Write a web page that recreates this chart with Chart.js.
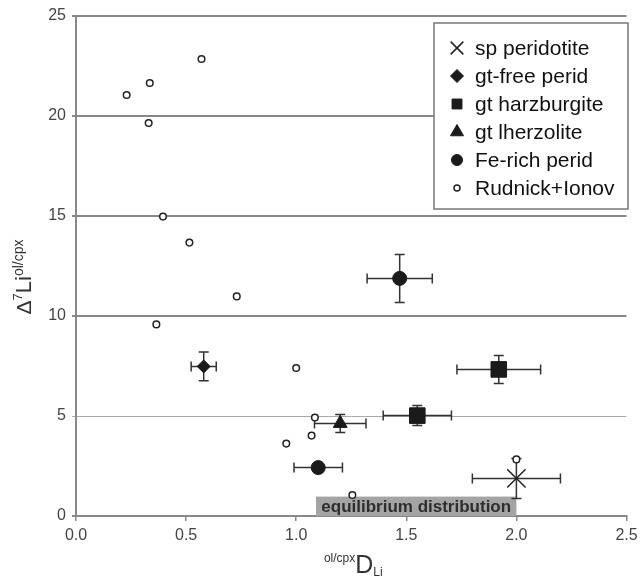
<!DOCTYPE html>
<html>
<head>
<meta charset="utf-8">
<script src="https://cdn.jsdelivr.net/npm/chart.js@4.4.0/dist/chart.umd.min.js"></script>
<style>
    html, body { margin: 0; padding: 0; background: #fff; }
</style>
</head>
<body>
<canvas id="chart" width="641" height="577"></canvas>
<script>
// Values
const seriesNames = ['sp peridotite', 'gt-free perid', 'gt harzburgite', 'gt lherzolite', 'Fe-rich perid', 'Rudnick+Ionov'];

const spX = [2.00];
const spY = [1.88];
const spXErr = [0.20];
const spYErr = [1.00];

const gtFreeX = [0.58];
const gtFreeY = [7.48];
const gtFreeXErr = [0.057];
const gtFreeYErr = [0.72];

const harzX = [1.55, 1.92];
const harzY = [5.02, 7.33];
const harzXErr = [0.155, 0.19];
const harzYErr = [0.50, 0.70];

const lherzX = [1.20];
const lherzY = [4.63];
const lherzXErr = [0.117];
const lherzYErr = [0.45];

const feRichX = [1.47, 1.10];
const feRichY = [11.88, 2.42];
const feRichXErr = [0.148, 0.11];
const feRichYErr = [1.20, 0];

const rudnickX = [0.23, 0.335, 0.57, 0.33, 0.395, 0.515, 0.73, 0.365, 1.00, 1.085, 1.07, 0.955, 1.255, 2.00];
const rudnickY = [21.05, 21.65, 22.85, 19.65, 14.97, 13.67, 10.98, 9.58, 7.40, 4.92, 4.02, 3.62, 1.05, 2.83];

const xTicks = [0, 0.5, 1.0, 1.5, 2.0, 2.5];
const yTicks = [0, 5, 10, 15, 20, 25];

// equilibrium distribution band
const eqRange = [1.09, 2.0];
const eqTop = 0.97;

function points(xs, ys) {
    return xs.map((x, i) => ({ x: x, y: ys[i] }));
}

const ink = '#1a1a1a';
const sans = '"Liberation Sans", Arial, sans-serif';

// Shaded box for the equilibrium distribution
const eqBox = {
    id: 'eqBox',
    beforeDatasetsDraw(chart) {
        const { ctx, scales: { x, y } } = chart;
        const l = x.getPixelForValue(eqRange[0]);
        const r = x.getPixelForValue(eqRange[1]);
        const t = y.getPixelForValue(eqTop);
        const b = y.getPixelForValue(0);
        ctx.save();
        ctx.fillStyle = '#a4a4a4';
        ctx.fillRect(l, t, r - l, b - t);
        ctx.fillStyle = '#2e2e2e';
        ctx.font = 'bold 17px ' + sans;
        ctx.textAlign = 'center';
        ctx.textBaseline = 'middle';
        ctx.fillText('equilibrium distribution', (l + r) / 2, (t + b) / 2 + 1);
        ctx.restore();
    }
};

// Error bars with caps
const errorBars = {
    id: 'errorBars',
    beforeDatasetsDraw(chart) {
        const { ctx, scales: { x, y } } = chart;
        const cap = 5;
        ctx.save();
        ctx.strokeStyle = '#333';
        ctx.lineWidth = 1.5;
        chart.data.datasets.forEach(ds => {
            if (!ds.xErr) return;
            ds.data.forEach((p, i) => {
                const px = x.getPixelForValue(p.x);
                const py = y.getPixelForValue(p.y);
                const ex = ds.xErr[i];
                const ey = ds.yErr[i];
                ctx.beginPath();
                if (ex) {
                    const l = x.getPixelForValue(p.x - ex);
                    const r = x.getPixelForValue(p.x + ex);
                    ctx.moveTo(l, py); ctx.lineTo(r, py);
                    ctx.moveTo(l, py - cap); ctx.lineTo(l, py + cap);
                    ctx.moveTo(r, py - cap); ctx.lineTo(r, py + cap);
                }
                if (ey) {
                    const t = y.getPixelForValue(p.y + ey);
                    const b = y.getPixelForValue(p.y - ey);
                    ctx.moveTo(px, t); ctx.lineTo(px, b);
                    ctx.moveTo(px - cap, t); ctx.lineTo(px + cap, t);
                    ctx.moveTo(px - cap, b); ctx.lineTo(px + cap, b);
                }
                ctx.stroke();
            });
        });
        ctx.restore();
    }
};

// Legend box inside the plot, top right
const boxLegend = {
    id: 'boxLegend',
    afterDraw(chart) {
        const { ctx } = chart;
        const legendSizes = [9, 6.5, 7, 7.5, 5.5, 3];
        ctx.save();
        ctx.fillStyle = '#fff';
        ctx.fillRect(434, 23, 194, 186);
        ctx.strokeStyle = '#777';
        ctx.lineWidth = 1.5;
        ctx.strokeRect(434, 23, 194, 186);
        ctx.font = '21px ' + sans;
        ctx.textBaseline = 'middle';
        ctx.textAlign = 'left';
        chart.data.datasets.forEach((ds, i) => {
            const cy = 48 + i * 28;
            ctx.fillStyle = ds.backgroundColor;
            ctx.strokeStyle = ds.borderColor;
            ctx.lineWidth = ds.borderWidth;
            Chart.helpers.drawPoint(ctx, {
                pointStyle: ds.pointStyle,
                radius: legendSizes[i],
                borderWidth: ds.borderWidth,
                rotation: 0
            }, 457, cy);
            ctx.fillStyle = '#111';
            ctx.fillText(ds.label, 475, cy + 1);
        });
        ctx.restore();
    }
};

// Axis titles with super/subscripts
const axisTitles = {
    id: 'axisTitles',
    afterDraw(chart) {
        const { ctx, chartArea } = chart;
        ctx.save();
        ctx.fillStyle = '#333';
        ctx.textBaseline = 'alphabetic';
        ctx.textAlign = 'left';

        // y title: Δ7Li ol/cpx
        const yParts = [
            { t: '\u0394', f: '21px ' + sans, dy: 0 },
            { t: '7', f: '13px ' + sans, dy: -9 },
            { t: 'Li', f: '22px ' + sans, dy: 0 },
            { t: 'ol/cpx', f: '14px ' + sans, dy: -8 }
        ];
        let w = 0;
        yParts.forEach(p => { ctx.font = p.f; w += ctx.measureText(p.t).width; });
        ctx.translate(31, 277);
        ctx.rotate(-Math.PI / 2);
        let cx = -w / 2;
        yParts.forEach(p => {
            ctx.font = p.f;
            ctx.fillText(p.t, cx, p.dy);
            cx += ctx.measureText(p.t).width;
        });
        ctx.setTransform(1, 0, 0, 1, 0, 0);

        // x title: ol/cpx D Li
        const xParts = [
            { t: 'ol/cpx', f: '12px ' + sans, dy: -11 },
            { t: 'D', f: '25px ' + sans, dy: 0 },
            { t: 'Li', f: '12px ' + sans, dy: 3 }
        ];
        w = 0;
        xParts.forEach(p => { ctx.font = p.f; w += ctx.measureText(p.t).width; });
        cx = (chartArea.left + chartArea.right) / 2 - w / 2 + 2;
        xParts.forEach(p => {
            ctx.font = p.f;
            ctx.fillText(p.t, cx, 573 + p.dy);
            cx += ctx.measureText(p.t).width;
        });
        ctx.restore();
    }
};

const ctx = document.getElementById('chart');

new Chart(ctx, {
    type: 'scatter',
    data: {
        datasets: [
            {
                label: seriesNames[0],
                data: points(spX, spY),
                xErr: spXErr, yErr: spYErr,
                pointStyle: 'crossRot',
                pointRadius: 13,
                borderWidth: 1.5,
                borderColor: '#222',
                backgroundColor: '#222'
            },
            {
                label: seriesNames[1],
                data: points(gtFreeX, gtFreeY),
                xErr: gtFreeXErr, yErr: gtFreeYErr,
                pointStyle: 'rectRot',
                pointRadius: 6.5,
                borderWidth: 1,
                borderColor: ink,
                backgroundColor: ink
            },
            {
                label: seriesNames[2],
                data: points(harzX, harzY),
                xErr: harzXErr, yErr: harzYErr,
                pointStyle: 'rect',
                pointRadius: 11,
                borderWidth: 1,
                borderColor: ink,
                backgroundColor: ink
            },
            {
                label: seriesNames[3],
                data: points(lherzX, lherzY),
                xErr: lherzXErr, yErr: lherzYErr,
                pointStyle: 'triangle',
                pointRadius: 8,
                borderWidth: 1,
                borderColor: ink,
                backgroundColor: ink
            },
            {
                label: seriesNames[4],
                data: points(feRichX, feRichY),
                xErr: feRichXErr, yErr: feRichYErr,
                pointStyle: 'circle',
                pointRadius: 7,
                borderWidth: 1,
                borderColor: ink,
                backgroundColor: ink
            },
            {
                label: seriesNames[5],
                data: points(rudnickX, rudnickY),
                pointStyle: 'circle',
                pointRadius: 3.3,
                borderWidth: 1.5,
                borderColor: '#222',
                backgroundColor: '#fff'
            }
        ]
    },
    options: {
        responsive: false,
        animation: false,
        layout: { padding: { top: 16, right: 13, left: 0, bottom: 0 } },
        scales: {
            x: {
                type: 'linear',
                min: 0,
                max: 2.5,
                afterFit: scale => {
                    scale.height = 61;
                    scale.paddingRight = 0;
                    scale.paddingLeft = 0;
                },
                afterBuildTicks: scale => { scale.ticks = xTicks.map(v => ({ value: v })); },
                ticks: {
                    color: '#444',
                    padding: 5,
                    font: { family: sans, size: 16 },
                    callback: v => v.toFixed(1)
                },
                grid: { drawOnChartArea: false, color: '#888', lineWidth: 1.5, tickLength: 5 },
                border: { color: '#888', width: 2 }
            },
            y: {
                type: 'linear',
                min: 0,
                max: 25,
                afterFit: scale => {
                    scale.width = 76;
                    scale.paddingTop = 0;
                    scale.paddingBottom = 0;
                },
                afterBuildTicks: scale => { scale.ticks = yTicks.map(v => ({ value: v })); },
                ticks: {
                    color: '#444',
                    padding: 6,
                    font: { family: sans, size: 16 }
                },
                grid: {
                    color: c => (c.tick && c.tick.value === 5 ? '#aaa' : '#888'),
                    lineWidth: c => (c.tick && c.tick.value === 5 ? 1 : 2),
                    tickLength: 4
                },
                border: { color: '#888', width: 2 }
            }
        },
        plugins: {
            legend: { display: false },
            tooltip: { enabled: false }
        }
    },
    plugins: [eqBox, errorBars, boxLegend, axisTitles]
});
</script>
</body>
</html>
